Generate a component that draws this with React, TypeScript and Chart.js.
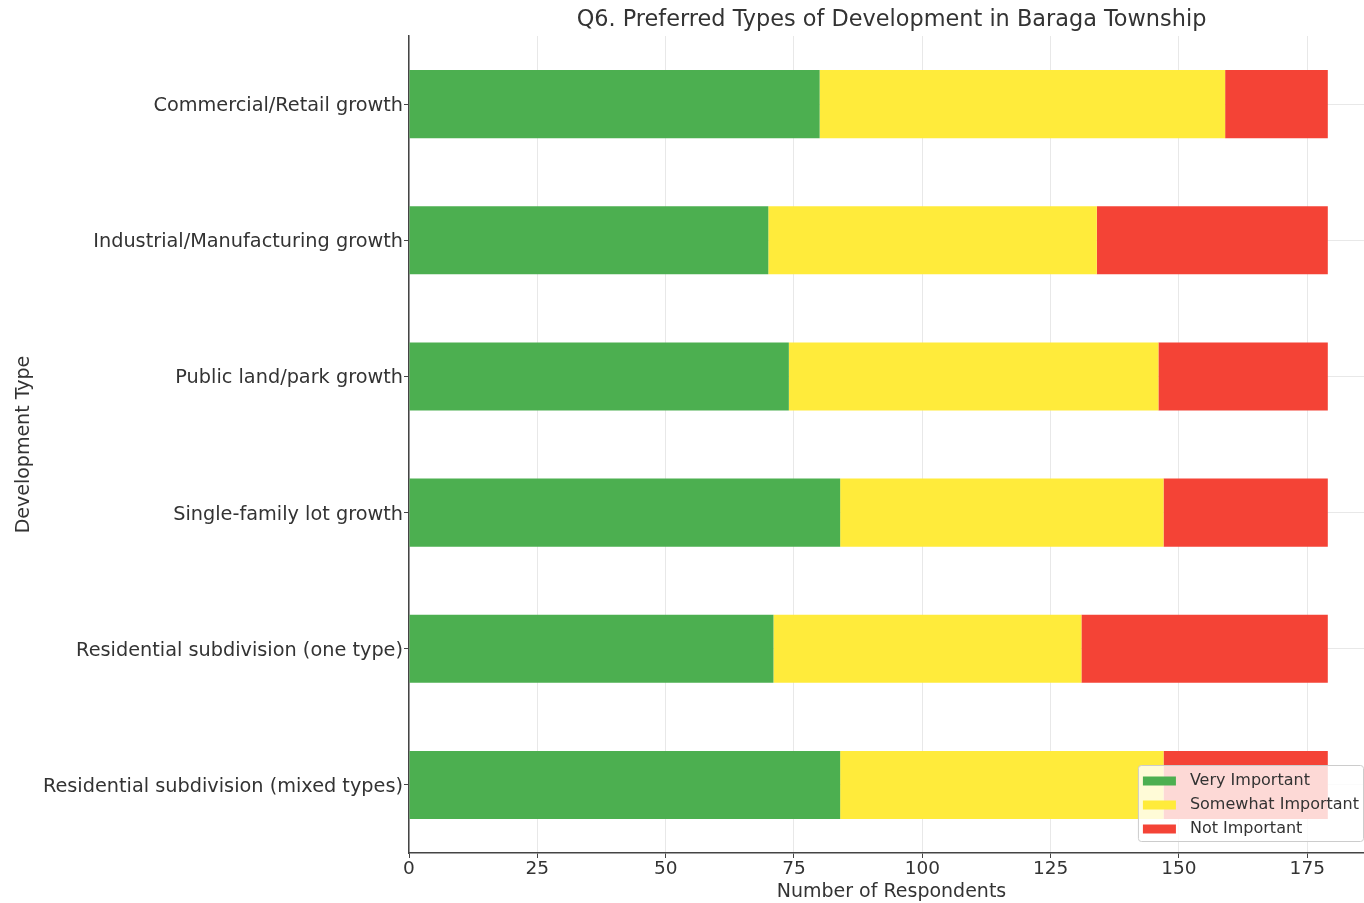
import React, { useEffect, useRef } from "react";
import { Chart, registerables } from "chart.js";

Chart.register(...registerables);

const TITLE = "Q6. Preferred Types of Development in Baraga Township";
const X_TITLE = "Number of Respondents";
const Y_TITLE = "Development Type";

const categories = [
  "Commercial/Retail growth",
  "Industrial/Manufacturing growth",
  "Public land/park growth",
  "Single-family lot growth",
  "Residential subdivision (one type)",
  "Residential subdivision (mixed types)",
];

const veryImportant = [80, 70, 74, 84, 71, 84];
const somewhatImportant = [79, 64, 72, 63, 60, 63];
const notImportant = [20, 45, 33, 32, 48, 32];

const seriesLabels = ["Very Important", "Somewhat Important", "Not Important"];
const seriesColors = ["#4CAF50", "#FFEB3B", "#F44336"];

const FONT = '"DejaVu Sans", "Noto Sans", sans-serif';
const TEXT = "#333333";

const titlePlugin = {
  id: "centerTitle",
  afterDraw(chart: any) {
    const { ctx, chartArea } = chart;
    ctx.save();
    ctx.font = `22.4px ${FONT}`;
    ctx.fillStyle = TEXT;
    ctx.textAlign = "center";
    ctx.textBaseline = "middle";
    ctx.fillText(TITLE, (chartArea.left + chartArea.right) / 2, 20);
    ctx.restore();
  },
};

const legendPlugin = {
  id: "insideLegend",
  afterDatasetsDraw(chart: any) {
    const { ctx, chartArea } = chart;
    const ds = chart.data.datasets;
    ctx.save();
    ctx.font = `16px ${FONT}`;
    let maxW = 0;
    ds.forEach((d: any) => {
      maxW = Math.max(maxW, ctx.measureText(d.label).width);
    });
    const padL = 5;
    const handleW = 33;
    const gap = 14;
    const padR = 4;
    const rowH = 24;
    const boxW = padL + handleW + gap + maxW + padR;
    const boxH = 76;
    const right = chartArea.right - 11;
    const bottom = chartArea.bottom - 12;
    const left = right - boxW;
    const top = bottom - boxH;
    ctx.fillStyle = "rgba(255,255,255,0.8)";
    ctx.strokeStyle = "#cccccc";
    ctx.lineWidth = 1;
    ctx.beginPath();
    (ctx as any).roundRect(left + 0.5, top + 0.5, boxW, boxH, 3);
    ctx.fill();
    ctx.stroke();
    ds.forEach((d: any, i: number) => {
      const cy = top + 16 + i * rowH;
      ctx.fillStyle = d.backgroundColor;
      ctx.fillRect(left + padL, cy - 4.5, handleW, 9);
      ctx.fillStyle = TEXT;
      ctx.textAlign = "left";
      ctx.textBaseline = "middle";
      ctx.fillText(d.label, left + padL + handleW + gap, cy);
    });
    ctx.restore();
  },
};

export default function App() {
  const ref = useRef<HTMLCanvasElement | null>(null);

  useEffect(() => {
    if (!ref.current) return;
    const values = [veryImportant, somewhatImportant, notImportant];
    const chart = new Chart(ref.current, {
      type: "bar",
      data: {
        labels: categories,
        datasets: values.map((v, i) => ({
          label: seriesLabels[i],
          data: v,
          backgroundColor: seriesColors[i],
          borderWidth: 0,
          categoryPercentage: 1,
          barPercentage: 0.5,
        })),
      },
      options: {
        indexAxis: "y",
        responsive: false,
        animation: false,
        layout: { padding: { top: 36, right: 6, left: 0, bottom: 0 } },
        plugins: {
          legend: { display: false },
          title: { display: false },
          tooltip: { enabled: false },
        },
        scales: {
          x: {
            stacked: true,
            min: 0,
            max: 188,
            afterFit: (s: any) => {
              s.height = 50;
            },
            ticks: {
              stepSize: 25,
              includeBounds: false,
              color: TEXT,
              font: { family: FONT, size: 18.5 },
              padding: 0,
              maxRotation: 0,
            },
            grid: {
              color: "#e8e8e8",
              lineWidth: 1,
              tickColor: "#444",
              tickLength: 5,
            },
            border: { color: "#444", width: 1.5 },
            title: {
              display: true,
              text: X_TITLE,
              color: TEXT,
              font: { family: FONT, size: 19 },
              padding: { top: 0, bottom: 0 },
            },
          },
          y: {
            stacked: true,
            afterFit: (s: any) => {
              s.width = 409;
            },
            ticks: {
              color: TEXT,
              font: { family: FONT, size: 19.3 },
              padding: 1,
              labelOffset: 2,
            },
            grid: {
              offset: false,
              color: "#e8e8e8",
              lineWidth: 1,
              tickColor: "#444",
              tickLength: 5,
            },
            border: { color: "#444", width: 1.5 },
            title: {
              display: true,
              text: Y_TITLE,
              color: TEXT,
              font: { family: FONT, size: 19 },
              padding: { top: 12.6, bottom: 0 },
            },
          },
        },
      },
      plugins: [titlePlugin, legendPlugin],
    } as any);
    return () => chart.destroy();
  }, []);

  return (
    <div
      style={{
        position: "absolute",
        left: 0,
        top: 0,
        width: 1364,
        height: 903,
        overflow: "hidden",
        background: "#ffffff",
      }}
    >
      <canvas ref={ref} width={1380} height={903} style={{ width: 1380, height: 903, display: "block" }} />
    </div>
  );
}
